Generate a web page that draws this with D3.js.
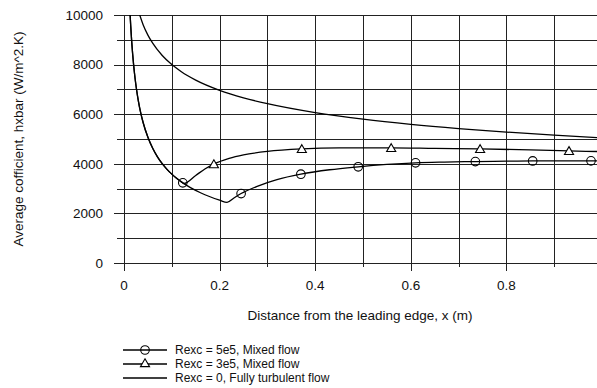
<!DOCTYPE html>
<html><head><meta charset="utf-8">
<script src="https://cdn.jsdelivr.net/npm/d3@7"></script>
<style>
html,body{margin:0;padding:0;background:#fff;}
svg{display:block;font-family:"Liberation Sans",Arial,sans-serif;}
</style></head>
<body>
<svg id="c" width="597" height="388"></svg>
<script>
// ---- data ----
const xTicks = [0, 0.2, 0.4, 0.6, 0.8];
const xTickLabels = ["0", "0.2", "0.4", "0.6", "0.8"];
const xGrid = [0, 0.1, 0.2, 0.3, 0.4, 0.5, 0.6, 0.7, 0.8, 0.9];
const yTicks = [0, 2000, 4000, 6000, 8000, 10000];
const yTickLabels = ["0", "2000", "4000", "6000", "8000", "10000"];
const yGrid = [0, 1000, 2000, 3000, 4000, 5000, 6000, 7000, 8000, 9000, 10000];

// laminar leading part (shared by both mixed-flow series)
const lamX = [0.0128, 0.014, 0.016, 0.018, 0.02, 0.023, 0.026, 0.03, 0.035, 0.04, 0.05, 0.06, 0.07, 0.08, 0.09, 0.1, 0.11, 0.123, 0.14, 0.16, 0.18, 0.2, 0.2155];
const lamH = [10014, 9576, 8957, 8445, 8012, 7471, 7026, 6541, 6056, 5665, 5067, 4626, 4282, 4006, 3777, 3583, 3416, 3231, 3028, 2833, 2671, 2534, 2441];

// Rexc = 5e5 mixed part
const mix5X = [0.2155, 0.23, 0.245, 0.28, 0.32, 0.37, 0.43, 0.49, 0.55, 0.61, 0.67, 0.735, 0.8, 0.855, 0.92, 0.99];
const mix5H = [2441, 2620, 2800, 3100, 3360, 3580, 3760, 3880, 3975, 4040, 4070, 4090, 4105, 4115, 4120, 4120];
const circX = [0.123, 0.245, 0.37, 0.49, 0.61, 0.735, 0.855, 0.977];
const circH = [3231, 2800, 3580, 3880, 4040, 4090, 4115, 4120];

// Rexc = 3e5 mixed part
const mix3X = [0.125, 0.15, 0.17, 0.188, 0.22, 0.25, 0.3, 0.372, 0.45, 0.559, 0.65, 0.745, 0.85, 0.931, 0.99];
const mix3H = [3205, 3530, 3800, 3990, 4220, 4360, 4500, 4600, 4640, 4640, 4620, 4600, 4560, 4520, 4495];
const triX = [0.188, 0.372, 0.559, 0.745, 0.931];
const triH = [3990, 4600, 4640, 4600, 4520];

// Rexc = 0 fully turbulent
const turbX = [0.0329, 0.04, 0.05, 0.06, 0.08, 0.1, 0.12, 0.15, 0.2, 0.25, 0.3, 0.4, 0.5, 0.6, 0.7, 0.8, 0.9, 0.99];
const turbH = [10000, 9611, 9190, 8862, 8366, 8000, 7714, 7377, 6965, 6661, 6423, 6063, 5799, 5591, 5421, 5278, 5155, 5058];

const legendLabels = ["Rexc = 5e5, Mixed flow", "Rexc = 3e5, Mixed flow", "Rexc = 0, Fully turbulent flow"];
const xTitle = "Distance from the leading edge, x (m)";
const yTitle = "Average cofficient, hxbar (W/m^2.K)";

// ---- drawing ----
(function () {
const svg = d3.select("#c");
const pL = 124, pR = 602, pT = 15, pB = 263;
const x = d3.scaleLinear().domain([0, 1]).range([pL, pR]);
const y = d3.scaleLinear().domain([0, 10000]).range([pB, pT]);
const FS = "13.5px";
const ink = "#111";

svg.append("defs").append("clipPath").attr("id", "plot")
  .append("rect").attr("x", pL).attr("y", pT).attr("width", 597 - pL).attr("height", pB - pT);

const grid = svg.append("g").attr("stroke", "#222").attr("stroke-width", 1).attr("shape-rendering", "crispEdges");
yGrid.forEach(v => {
  const major = yTicks.includes(v);
  grid.append("line").attr("x1", major ? pL - 10 : pL - 7).attr("x2", 597)
    .attr("y1", Math.round(y(v)) + 0.5).attr("y2", Math.round(y(v)) + 0.5);
});
xGrid.forEach(v => {
  const major = xTicks.includes(v);
  grid.append("line").attr("x1", Math.round(x(v)) + 0.5).attr("x2", Math.round(x(v)) + 0.5)
    .attr("y1", pT).attr("y2", major ? pB + 8 : pB + 4);
});

// tick labels
svg.append("g").selectAll("text").data(yTicks).join("text")
  .attr("x", 103).attr("y", d => y(d)).attr("dy", "0.36em")
  .attr("text-anchor", "end").attr("font-size", FS).attr("fill", ink)
  .text((d, i) => yTickLabels[i]);
svg.append("g").selectAll("text").data(xTicks).join("text")
  .attr("x", d => x(d)).attr("y", 290)
  .attr("text-anchor", "middle").attr("font-size", FS).attr("fill", ink)
  .text((d, i) => xTickLabels[i]);

// axis titles
svg.append("text").attr("x", 360).attr("y", 320).attr("text-anchor", "middle")
  .attr("font-size", FS).attr("fill", ink).text(xTitle);
svg.append("text").attr("transform", "translate(23,139) rotate(-90)").attr("text-anchor", "middle")
  .attr("font-size", FS).attr("fill", ink).text(yTitle);

// curves
const line = d3.line().x(d => x(d[0])).y(d => y(d[1])).curve(d3.curveMonotoneX);
const zip = (a, b) => a.map((v, i) => [v, b[i]]);
const series5 = zip(lamX, lamH).concat(zip(mix5X, mix5H).slice(1));
const series3 = zip(lamX, lamH).filter(d => d[0] < 0.125).concat(zip(mix3X, mix3H));
const seriesT = zip(turbX, turbH);

const plot = svg.append("g").attr("clip-path", "url(#plot)");
[series5, series3, seriesT].forEach(s => {
  plot.append("path").datum(s).attr("d", line)
    .attr("fill", "none").attr("stroke", "#000").attr("stroke-width", 1.3).attr("stroke-linejoin", "round");
});

const tri = d3.symbol().type(d3.symbolTriangle).size(36);
function circle(g, cx, cy) {
  g.append("circle").attr("cx", cx).attr("cy", cy).attr("r", 4.3)
    .attr("fill", "none").attr("stroke", "#000").attr("stroke-width", 1.1);
}
function triangle(g, cx, cy) {
  g.append("path").attr("d", tri).attr("transform", `translate(${cx},${cy + 1})`)
    .attr("fill", "#fff").attr("stroke", "#000").attr("stroke-width", 1.1);
}
zip(circX, circH).forEach(d => circle(plot, x(d[0]), y(d[1])));
zip(triX, triH).forEach(d => triangle(plot, x(d[0]), y(d[1])));

// legend
const legY = [350, 364, 378];
const lg = svg.append("g");
legendLabels.forEach((lab, i) => {
  lg.append("line").attr("x1", 123).attr("x2", 167).attr("y1", legY[i]).attr("y2", legY[i])
    .attr("stroke", "#000").attr("stroke-width", 1.3);
  if (i === 0) circle(lg, 145, legY[i]);
  if (i === 1) triangle(lg, 145, legY[i] - 1);
  lg.append("text").attr("x", 175).attr("y", legY[i]).attr("dy", "0.36em")
    .attr("font-size", "12px").attr("fill", ink).text(lab);
});
})();
</script>
</body></html>
